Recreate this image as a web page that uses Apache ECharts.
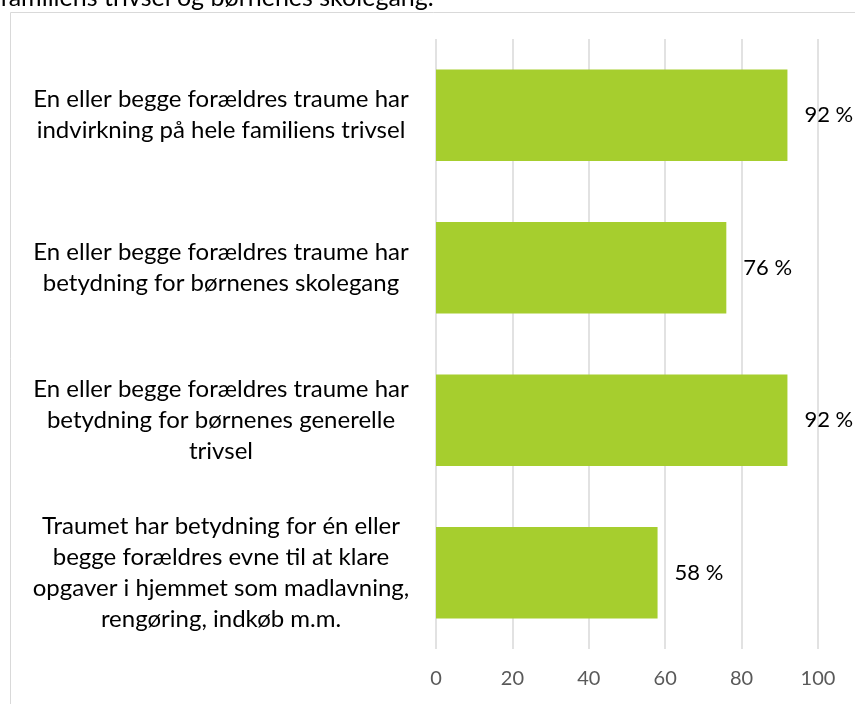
<!DOCTYPE html>
<html>
<head>
<meta charset="utf-8">
<script src="https://cdn.jsdelivr.net/npm/echarts@6/dist/echarts.min.js"></script>
<style>
html,body{margin:0;padding:0;background:#fff;}
#main{width:855px;height:704px;}
</style>
</head>
<body>
<div id="main"></div>
<script>
var categories = [
    'En eller begge forældres traume har\nindvirkning på hele familiens trivsel',
    'En eller begge forældres traume har\nbetydning for børnenes skolegang',
    'En eller begge forældres traume har\nbetydning for børnenes generelle\ntrivsel',
    'Traumet har betydning for én eller\nbegge forældres evne til at klare\nopgaver i hjemmet som madlavning,\nrengøring, indkøb m.m.'
];
var values = [92, 76, 92, 58]; // procent
var xTicks = [0, 20, 40, 60, 80, 100];
var topText = 'familiens trivsel og børnenes skolegang.';

var myChart = echarts.init(document.getElementById('main'));
var option = {
    animation: false,
    textStyle: {fontFamily: 'Lato'},
    graphic: [
        {
            type: 'rect',
            shape: {x: 10.5, y: 12.5, width: 900, height: 800},
            style: {fill: 'none', stroke: '#d9d9d9', lineWidth: 1}
        },
        {
            type: 'text',
            left: 0,
            top: -15,
            style: {text: topText, font: '25px Lato', fill: '#000'}
        }
    ],
    grid: {left: 436, right: 37, top: 39, bottom: 55},
    xAxis: {
        type: 'value',
        min: xTicks[0],
        max: xTicks[xTicks.length - 1],
        interval: 20,
        axisLine: {show: false},
        axisTick: {show: false},
        splitLine: {lineStyle: {color: '#d9d9d9', width: 1.5}},
        axisLabel: {color: '#595959', fontSize: 20, margin: 20}
    },
    yAxis: {
        type: 'category',
        inverse: true,
        data: categories,
        axisLine: {show: false},
        axisTick: {show: false},
        axisLabel: {
            color: '#000',
            fontSize: 24,
            lineHeight: 31,
            align: 'center',
            margin: 215
        }
    },
    series: [{
        type: 'bar',
        data: values,
        barCategoryGap: '40%',
        itemStyle: {color: '#a6ce2e'},
        label: {
            show: true,
            position: 'right',
            distance: 17,
            color: '#000',
            fontSize: 22,
            formatter: '{c} %'
        }
    }]
};
myChart.setOption(option, true);
</script>
</body>
</html>
